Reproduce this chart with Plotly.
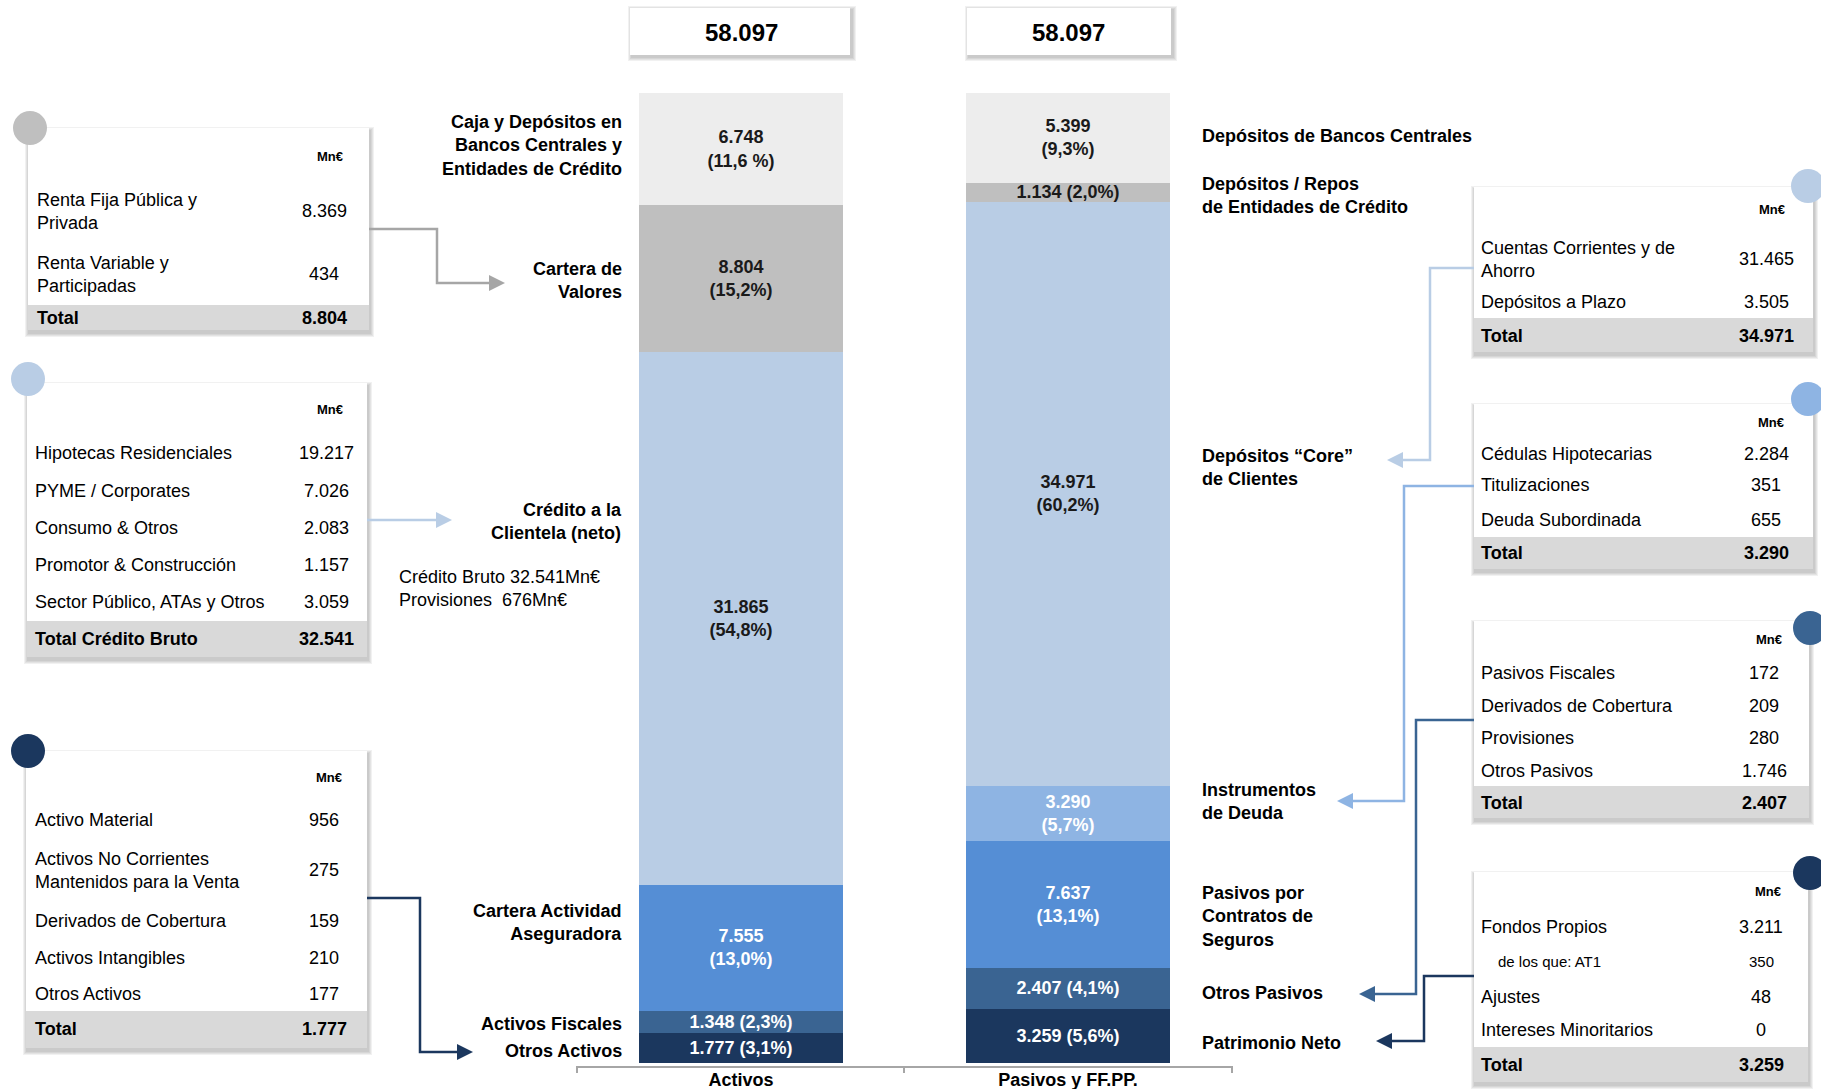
import plotly.graph_objects as go

W, H = 1821, 1089
FONT = "Liberation Sans, Arial, sans-serif"

# Balance (Mn€); each column stacked from the bottom up
columns = ["Activos", "Pasivos y FF.PP."]
column_totals = [58097, 58097]

activos_names = ["Otros Activos", "Activos Fiscales", "Cartera Actividad<br>Aseguradora",
                 "Crédito a la<br>Clientela (neto)", "Cartera de<br>Valores",
                 "Caja y Depósitos en<br>Bancos Centrales y<br>Entidades de Crédito"]
activos_values = [1777, 1348, 7555, 31865, 8804, 6748]
activos_pct = ["3,1%", "2,3%", "13,0%", "54,8%", "15,2%", "11,6 %"]

pasivos_names = ["Patrimonio Neto", "Otros Pasivos", "Pasivos por<br>Contratos de<br>Seguros",
                 "Instrumentos<br>de Deuda", "Depósitos “Core”<br>de Clientes",
                 "Depósitos / Repos<br>de Entidades de Crédito", "Depósitos de Bancos Centrales"]
pasivos_values = [3259, 2407, 7637, 3290, 34971, 1134, 5399]
pasivos_pct = ["5,6%", "4,1%", "13,1%", "5,7%", "60,2%", "2,0%", "9,3%"]

credito_bruto = 32541
provisiones = 676

# breakdown tables (Mn€)
valores_items = ["Renta Fija Pública y<br>Privada", "Renta Variable y<br>Participadas"]
valores_values = [8369, 434]
valores_total = 8804

credito_items = ["Hipotecas Residenciales", "PYME / Corporates", "Consumo & Otros",
                 "Promotor & Construcción", "Sector Público, ATAs y Otros"]
credito_values = [19217, 7026, 2083, 1157, 3059]
credito_total = 32541

otros_act_items = ["Activo Material", "Activos No Corrientes<br>Mantenidos para la Venta",
                   "Derivados de Cobertura", "Activos Intangibles", "Otros Activos"]
otros_act_values = [956, 275, 159, 210, 177]
otros_act_total = 1777

core_items = ["Cuentas Corrientes y de<br>Ahorro", "Depósitos a Plazo"]
core_values = [31465, 3505]
core_total = 34971

deuda_items = ["Cédulas Hipotecarias", "Titulizaciones", "Deuda Subordinada"]
deuda_values = [2284, 351, 655]
deuda_total = 3290

otros_pas_items = ["Pasivos Fiscales", "Derivados de Cobertura", "Provisiones", "Otros Pasivos"]
otros_pas_values = [172, 209, 280, 1746]
otros_pas_total = 2407

patrimonio_items = ["Fondos Propios", "de los que: AT1", "Ajustes", "Intereses Minoritarios"]
patrimonio_values = [3211, 350, 48, 0]
patrimonio_total = 3259

# colours
NAVY, MID, BLUE, SKY, PALE, GREY, LIGHT = ("#1B375E", "#3A6492", "#558ED5", "#8EB4E3",
                                           "#B9CDE5", "#BFBFBF", "#EDEDED")
activos_colors = [NAVY, MID, BLUE, PALE, GREY, LIGHT]
pasivos_colors = [NAVY, MID, BLUE, SKY, PALE, GREY, LIGHT]
activos_one_line = [True, True, False, False, False, False]
pasivos_one_line = [True, True, False, False, False, True, False]


def fmt(v):
    return f"{v:,}".replace(",", ".")


def X(px):
    return px / W


def Y(py):
    return 1 - py / H


shapes = []
annotations = []


def rect(x0, y0, x1, y1, fill):
    shapes.append(dict(type="rect", xref="paper", yref="paper", x0=X(x0), x1=X(x1),
                       y0=Y(y1), y1=Y(y0), fillcolor=fill, line=dict(width=0)))


def shadow(x0, y0, x1, y1, dx=1, dy=3):
    for i in range(4, 0, -1):
        rect(x0 + dx - i, y0 + dy - i, x1 + dx + i, y1 + dy + i, "rgba(0,0,0,0.055)")


def text(t, x, y, size=18, bold=False, anchor="left", color="#000000"):
    if bold:
        t = "<b>" + t.replace("<br>", "</b><br><b>") + "</b>"
    annotations.append(dict(text=t, x=X(x), y=Y(y), xref="paper", yref="paper",
                            xanchor=anchor, yanchor="middle", align=anchor, showarrow=False,
                            font=dict(family=FONT, size=size, color=color)))


def connector(points, color, width=2.5):
    # polyline ending in a filled arrow head at the last point
    (xa, ya), (xb, yb) = points[-2], points[-1]
    sign = 1 if xb > xa else -1
    pts = points[:-1] + [(xb - sign * 12, yb)]
    path = "M " + " L ".join(f"{X(px)},{Y(py)}" for px, py in pts)
    shapes.append(dict(type="path", xref="paper", yref="paper", path=path,
                       line=dict(color=color, width=width)))
    tri = (f"M {X(xb)},{Y(yb)} L {X(xb - sign * 16)},{Y(yb - 8)} "
           f"L {X(xb - sign * 16)},{Y(yb + 8)} Z")
    shapes.append(dict(type="path", xref="paper", yref="paper", path=tri,
                       fillcolor=color, line=dict(width=0)))


def table(box, total_top, circle, circle_color, mn_xy, label_x, num_x,
          items, values, row_y, total, total_y, total_label="Total", small=()):
    x0, y0, x1, y1 = box
    shadow(x0, y0, x1, y1)
    rect(x0, y0, x1, y1, "white")
    rect(x0, total_top, x1, y1, "#D9D9D9")
    cx, cy = circle
    shapes.append(dict(type="circle", xref="paper", yref="paper", x0=X(cx - 17), x1=X(cx + 17),
                       y0=Y(cy + 17), y1=Y(cy - 17), fillcolor=circle_color, line=dict(width=0)))
    text("Mn€", mn_xy[0], mn_xy[1], size=13, bold=True, anchor="center")
    for i, (lab, v, ry) in enumerate(zip(items, values, row_y)):
        if i in small:
            text(lab, label_x + 17, ry, size=15)
            text(fmt(v), num_x, ry, size=15, anchor="center")
        else:
            text(lab, label_x, ry, size=18)
            text(fmt(v), num_x, ry, size=18, anchor="center")
    text(total_label, label_x, total_y, size=18, bold=True)
    text(fmt(total), num_x, total_y, size=18, bold=True, anchor="center")


fig = go.Figure()

for col, values, pcts, colors, one_line, n_white in [
    (columns[0], activos_values, activos_pct, activos_colors, activos_one_line, 3),
    (columns[1], pasivos_values, pasivos_pct, pasivos_colors, pasivos_one_line, 4),
]:
    for i, (v, p, c, ol) in enumerate(zip(values, pcts, colors, one_line)):
        sep = " " if ol else "<br>"
        fig.add_trace(go.Bar(
            x=[col], y=[v], width=0.624,
            marker=dict(color=c, line=dict(width=0)),
            text=[f"{fmt(v)}{sep}({p})"], textposition="inside", insidetextanchor="middle",
            textangle=0,
            textfont=dict(family=FONT, size=18, weight="bold",
                          color="white" if i < n_white else "#1A1A1A"),
            hoverinfo="skip", showlegend=False,
        ))

# total boxes above the columns
for (bx0, bx1), col, tot in zip([(630, 850), (967, 1171)], columns, column_totals):
    shadow(bx0, 8, bx1, 55, dx=2, dy=2)
    rect(bx0, 8, bx1, 55, "white")
    annotations.append(dict(text=f"<b>{fmt(tot)}</b>", x=col, xref="x", y=Y(32), yref="paper",
                            showarrow=False, xanchor="center", yanchor="middle",
                            font=dict(family=FONT, size=24, color="#000000")))

# category labels beside the columns
for name, y in zip(activos_names, [1051, 1024, 922, 521, 280, 146]):
    text(name, 624, y, bold=True, anchor="right")
for name, y in zip(pasivos_names, [1043, 993, 916, 801, 467, 195, 136]):
    text(name, 1200, y, bold=True, anchor="left")

text(f"Crédito Bruto {fmt(credito_bruto)}Mn€<br>Provisiones  {provisiones}Mn€", 397, 588)

# bottom bracket under both columns
shapes.append(dict(type="path", xref="paper", yref="paper",
                   path=(f"M {X(577)},{Y(1073)} L {X(577)},{Y(1067)} L {X(1232)},{Y(1067)} "
                         f"L {X(1232)},{Y(1073)} M {X(904)},{Y(1067)} L {X(904)},{Y(1073)}"),
                   line=dict(color="#A6A6A6", width=2)))

# left-hand tables
table((28, 128, 369, 330), 305, (30, 128), GREY, (330, 156), 35, 324,
      valores_items, valores_values, [211, 274], valores_total, 318)
table((27, 383, 367, 657), 621, (28, 379), PALE, (330, 409), 33, 326,
      credito_items, credito_values, [453, 491, 528, 565, 602], credito_total, 639,
      total_label="Total Crédito Bruto")
table((26, 751, 367, 1048), 1011, (28, 751), NAVY, (329, 777), 33, 324,
      otros_act_items, otros_act_values, [820, 870, 921, 958, 994], otros_act_total, 1029)

# right-hand tables
table((1474, 187, 1813, 352), 318, (1808, 186), PALE, (1772, 210), 1479, 1766,
      core_items, core_values, [259, 302], core_total, 336)
table((1474, 404, 1813, 569), 537, (1808, 399), SKY, (1771, 422), 1479, 1766,
      deuda_items, deuda_values, [454, 485, 520], deuda_total, 553)
table((1474, 621, 1809, 818), 786, (1810, 628), MID, (1769, 639), 1479, 1764,
      otros_pas_items, otros_pas_values, [673, 706, 738, 771], otros_pas_total, 803)
table((1474, 872, 1808, 1082), 1047, (1810, 873), NAVY, (1768, 891), 1479, 1761,
      patrimonio_items, patrimonio_values, [927, 961, 997, 1030], patrimonio_total, 1065,
      small=(1,))

# connectors from tables to the column labels
connector([(369, 229), (437, 229), (437, 283), (505, 283)], "#A6A6A6")
connector([(367, 520), (452, 520)], PALE)
connector([(367, 898), (420, 898), (420, 1052), (473, 1052)], NAVY)
connector([(1474, 268), (1430, 268), (1430, 460), (1387, 460)], PALE)
connector([(1474, 486), (1404, 486), (1404, 801), (1337, 801)], SKY)
connector([(1474, 720), (1416, 720), (1416, 994), (1359, 994)], MID)
connector([(1474, 976), (1424, 976), (1424, 1041), (1376, 1041)], NAVY)

fig.update_layout(
    width=W, height=H, autosize=False,
    margin=dict(l=0, r=0, t=0, b=0),
    paper_bgcolor="white", plot_bgcolor="rgba(0,0,0,0)",
    barmode="stack",
    uniformtext=dict(minsize=18, mode="show"),
    xaxis=dict(type="category", categoryorder="array", categoryarray=columns,
               range=[-2.2661, 3.3028], showgrid=False, zeroline=False, showline=False,
               ticks="", ticklabelstandoff=4, automargin=False,
               tickfont=dict(family=FONT, size=18, color="#000000", weight="bold")),
    yaxis=dict(domain=[1 - 1063 / H, 1 - 92.5 / H], range=[0, column_totals[0]],
               visible=False, automargin=False),
    shapes=shapes,
    annotations=annotations,
)

# the page body has a default 8px margin; drop it so the figure fills the window
fig.write_html("out.html", config={"displayModeBar": False},
               post_script="document.body.style.margin='0px';")
